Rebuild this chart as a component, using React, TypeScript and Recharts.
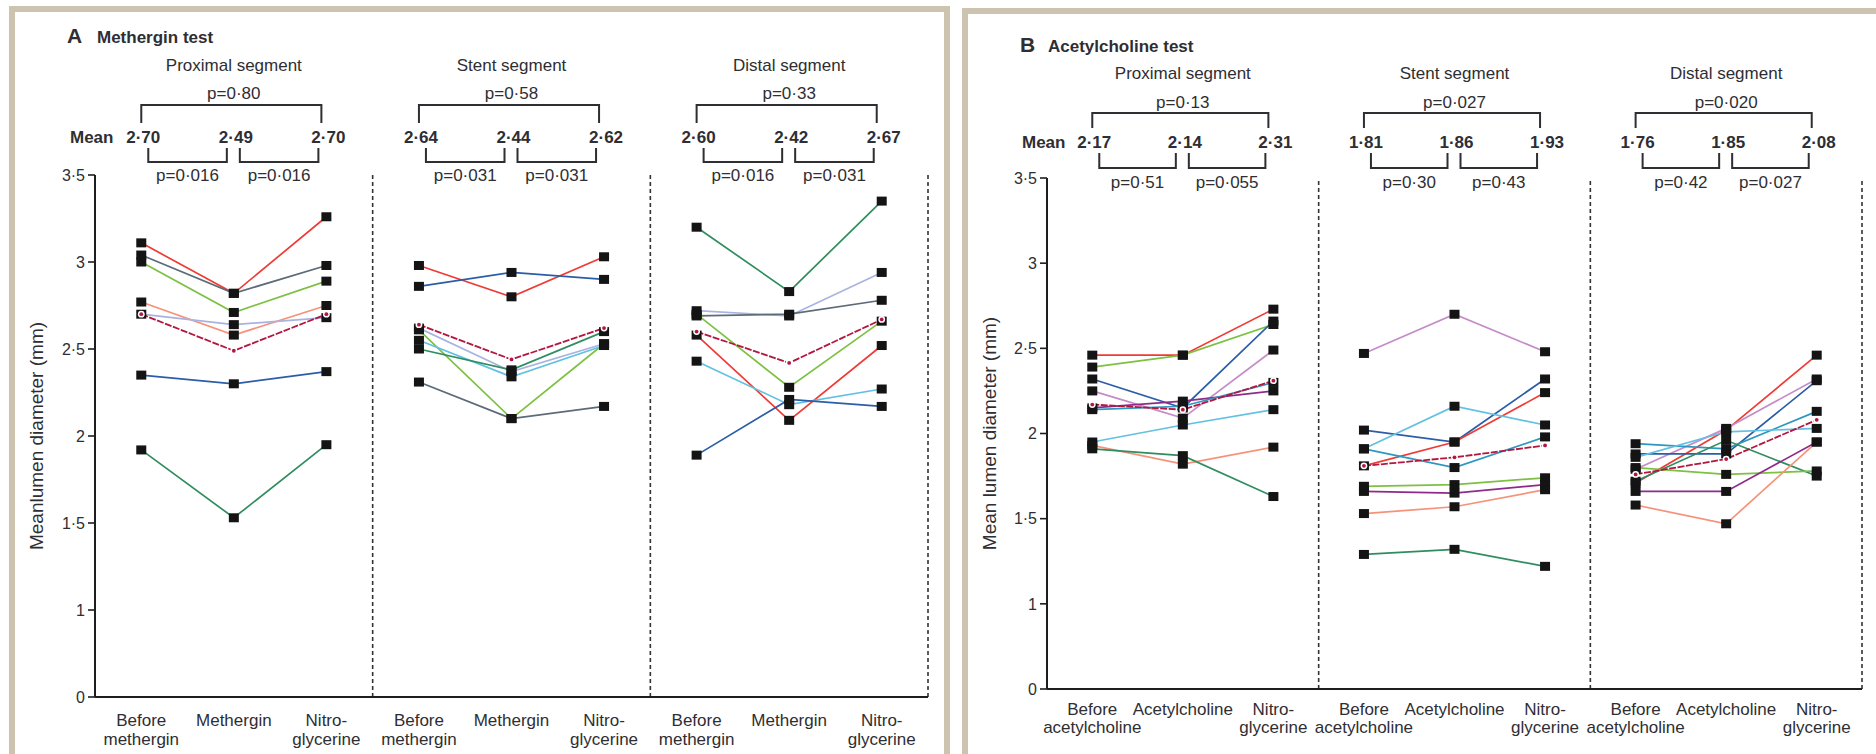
import React from "react";
import { LineChart, Line, XAxis, YAxis, ReferenceLine } from "recharts";

const SEGMENTS = ["Proximal segment", "Stent segment", "Distal segment"];
const METH_TICKS = [["Before", "methergin"], ["Methergin"], ["Nitro-", "glycerine"]];
const ACH_TICKS = [["Before", "acetylcholine"], ["Acetylcholine"], ["Nitro-", "glycerine"]];
const Y_TICKS = [0, 1, 1.5, 2, 2.5, 3, 3.5];

// Methergin test: one row per patient -> [before, methergin, nitroglycerine]
const METH_PROXIMAL = [
  [3.11, 2.82, 3.26],
  [3.04, 2.82, 2.98],
  [3.0, 2.71, 2.89],
  [2.77, 2.58, 2.75],
  [2.7, 2.64, 2.68],
  [2.35, 2.3, 2.37],
  [1.92, 1.53, 1.95],
];
const METH_STENT = [
  [2.98, 2.8, 3.03],
  [2.86, 2.94, 2.9],
  [2.62, 2.37, 2.53],
  [2.61, 2.1, 2.53],
  [2.55, 2.34, 2.52],
  [2.5, 2.38, 2.6],
  [2.31, 2.1, 2.17],
];
const METH_DISTAL = [
  [3.2, 2.83, 3.35],
  [2.72, 2.69, 2.94],
  [2.69, 2.7, 2.78],
  [2.7, 2.28, 2.66],
  [2.58, 2.09, 2.52],
  [2.43, 2.18, 2.27],
  [1.89, 2.21, 2.17],
];
const METH_MEANS = [
  [2.7, 2.49, 2.7],
  [2.64, 2.44, 2.62],
  [2.6, 2.42, 2.67],
];
const METH_P_ALL = ["p=0·80", "p=0·58", "p=0·33"];
const METH_P_PAIR = [
  ["p=0·016", "p=0·016"],
  ["p=0·031", "p=0·031"],
  ["p=0·016", "p=0·031"],
];

// Acetylcholine test: [before, acetylcholine, nitroglycerine]
const ACH_PROXIMAL = [
  [2.46, 2.46, 2.73],
  [2.39, 2.46, 2.64],
  [2.32, 2.15, 2.66],
  [2.25, 2.09, 2.49],
  [2.15, 2.19, 2.25],
  [2.14, 2.16, 2.3],
  [1.95, 2.05, 2.14],
  [1.93, 1.82, 1.92],
  [1.91, 1.87, 1.63],
];
const ACH_STENT = [
  [2.47, 2.7, 2.48],
  [2.02, 1.95, 2.32],
  [1.81, 1.95, 2.24],
  [1.91, 2.16, 2.05],
  [1.91, 1.8, 1.98],
  [1.69, 1.7, 1.74],
  [1.66, 1.65, 1.7],
  [1.53, 1.57, 1.67],
  [1.29, 1.32, 1.22],
];
const ACH_DISTAL = [
  [1.71, 2.02, 2.46],
  [1.79, 2.03, 2.32],
  [1.88, 1.88, 2.31],
  [1.94, 1.91, 2.13],
  [1.86, 2.01, 2.03],
  [1.72, 1.96, 1.75],
  [1.8, 1.76, 1.78],
  [1.66, 1.66, 1.95],
  [1.58, 1.47, 1.95],
];
const ACH_MEANS = [
  [2.17, 2.14, 2.31],
  [1.81, 1.86, 1.93],
  [1.76, 1.85, 2.08],
];
const ACH_P_ALL = ["p=0·13", "p=0·027", "p=0·020"];
const ACH_P_PAIR = [
  ["p=0·51", "p=0·055"],
  ["p=0·30", "p=0·43"],
  ["p=0·42", "p=0·027"],
];

const RED = "#ef3b36";
const SLATE = "#5c6b77";
const LGREEN = "#7dc142";
const SALMON = "#f7927a";
const LAVENDER = "#a9b3df";
const BLUE = "#2b5da8";
const TEAL = "#2f8d5f";
const CYAN = "#62c0e2";
const TEALBLUE = "#2d97bf";
const LILAC = "#c58cc8";
const PURPLE = "#8e2b8a";
const MEAN = "#b3173f";

const METH_COLORS = [
  [RED, SLATE, LGREEN, SALMON, LAVENDER, BLUE, TEAL],
  [RED, BLUE, LAVENDER, LGREEN, CYAN, TEAL, SLATE],
  [TEAL, LAVENDER, SLATE, LGREEN, RED, CYAN, BLUE],
];
const ACH_COLORS = [
  [RED, LGREEN, BLUE, LILAC, PURPLE, TEALBLUE, CYAN, SALMON, TEAL],
  [LILAC, BLUE, RED, CYAN, TEALBLUE, LGREEN, PURPLE, SALMON, TEAL],
  [RED, LILAC, BLUE, TEALBLUE, CYAN, TEAL, LGREEN, PURPLE, SALMON],
];

const FONT = "'Liberation Sans', Arial, sans-serif";
const INK = "#2e2e33";
const BORDER = "#cdc4b0";
const W = 1876;
const H = 754;
const Y_W = 60;
const XB_H = 10;

// y axis is broken between 0 and 1: 0 sits one half-step below 1
const toAxis = (v: number) => (v === 0 ? 0 : v - 0.5);
const fromAxis = (p: number) => (p === 0 ? 0 : p + 0.5);
const dot = (s: string) => s.replace(".", "·");
const fmtTick = (p: number) => dot(String(Math.round(fromAxis(p) * 10) / 10));
const fmt2 = (v: number) => dot(v.toFixed(2));

function buildRows(segs: number[][][], means: number[][]) {
  const rows: Record<string, number>[] = [];
  for (let k = 0; k < 9; k++) rows.push({ x: k + 0.5 });
  segs.forEach((seg, s) => {
    seg.forEach((vals, i) => {
      vals.forEach((v, k) => {
        rows[3 * s + k][`s${s}_${i}`] = toAxis(v);
      });
    });
    means[s].forEach((v, k) => {
      rows[3 * s + k][`m${s}`] = toAxis(v);
    });
  });
  return rows;
}

const Square = (p: any) => {
  if (p.cy == null || isNaN(p.cy)) return null;
  return <rect key={p.key} x={p.cx - 5} y={p.cy - 4.5} width={10} height={9} fill="#141414" />;
};

const MeanDot = (p: any) => {
  if (p.cy == null || isNaN(p.cy)) return null;
  return (
    <g key={p.key}>
      <circle cx={p.cx} cy={p.cy} r={3.4} fill="#fff" />
      <circle cx={p.cx} cy={p.cy} r={1.9} fill={MEAN} />
    </g>
  );
};

type Cfg = {
  letter: string;
  title: string;
  letterX: number;
  titleX: number;
  titleY: number;
  meanX: number;
  plotLeft: number;
  plotRight: number;
  plotTop: number;
  plotBottom: number;
  segs: number[][][];
  colors: string[][];
  means: number[][];
  pAll: string[];
  pPair: string[][];
  ticks: string[][];
  yLabel: string;
  yLabelX: number;
  h: { seg: number; pTop: number; brTop: number; brEnd: number; mean: number; lowTop: number; lowBot: number; lowP: number };
  tickBase: number[];
};

const PANEL_A: Cfg = {
  letter: "A",
  title: "Methergin test",
  letterX: 67,
  titleX: 97,
  titleY: 43,
  meanX: 70,
  plotLeft: 95,
  plotRight: 928,
  plotTop: 175,
  plotBottom: 697,
  segs: [METH_PROXIMAL, METH_STENT, METH_DISTAL],
  colors: METH_COLORS,
  means: METH_MEANS,
  pAll: METH_P_ALL,
  pPair: METH_P_PAIR,
  ticks: METH_TICKS,
  yLabel: "Meanlumen diameter (mm)",
  yLabelX: 36,
  h: { seg: 71, pTop: 99, brTop: 105, brEnd: 123, mean: 143, lowTop: 148, lowBot: 162, lowP: 181 },
  tickBase: [19, 38],
};

const PANEL_B: Cfg = {
  letter: "B",
  title: "Acetylcholine test",
  letterX: 1020,
  titleX: 1048,
  titleY: 52,
  meanX: 1022,
  plotLeft: 1047,
  plotRight: 1862,
  plotTop: 178,
  plotBottom: 689,
  segs: [ACH_PROXIMAL, ACH_STENT, ACH_DISTAL],
  colors: ACH_COLORS,
  means: ACH_MEANS,
  pAll: ACH_P_ALL,
  pPair: ACH_P_PAIR,
  ticks: ACH_TICKS,
  yLabel: "Mean lumen diameter (mm)",
  yLabelX: 989,
  h: { seg: 79, pTop: 108, brTop: 113, brEnd: 128, mean: 148, lowTop: 153, lowBot: 168, lowP: 188 },
  tickBase: [16, 34],
};

function Header({ cfg }: { cfg: Cfg }) {
  const cw = (cfg.plotRight - cfg.plotLeft) / 9;
  const c = (k: number) => cfg.plotLeft + (k + 0.5) * cw;
  const h = cfg.h;
  const br = { fill: "none", stroke: INK, strokeWidth: 2 };
  return (
    <svg width={W} height={H} style={{ position: "absolute", left: 0, top: 0 }} fontFamily={FONT} fill={INK}>
      <text x={cfg.letterX} y={cfg.titleY} fontSize={21} fontWeight="bold">
        {cfg.letter}
      </text>
      <text x={cfg.titleX} y={cfg.titleY} fontSize={17} fontWeight="bold">
        {cfg.title}
      </text>
      <text x={cfg.meanX} y={h.mean} fontSize={17} fontWeight="bold">
        Mean
      </text>
      {SEGMENTS.map((name, s) => {
        const c0 = c(3 * s);
        const c1 = c(3 * s + 1);
        const c2 = c(3 * s + 2);
        const l0 = c0 + 7;
        const l1 = c1 - 7;
        const r0 = c1 + 6;
        const r1 = c2 - 8;
        return (
          <g key={name}>
            <text x={c1} y={h.seg} textAnchor="middle" fontSize={17}>
              {name}
            </text>
            <text x={c1} y={h.pTop} textAnchor="middle" fontSize={17}>
              {cfg.pAll[s]}
            </text>
            <polyline points={`${c0},${h.brEnd} ${c0},${h.brTop} ${c2 - 5},${h.brTop} ${c2 - 5},${h.brEnd}`} {...br} />
            {cfg.means[s].map((m, k) => (
              <text key={k} x={c(3 * s + k) + 2} y={h.mean} textAnchor="middle" fontSize={17} fontWeight="bold">
                {fmt2(m)}
              </text>
            ))}
            <polyline points={`${l0},${h.lowTop} ${l0},${h.lowBot} ${l1},${h.lowBot} ${l1},${h.lowTop}`} {...br} />
            <polyline points={`${r0},${h.lowTop} ${r0},${h.lowBot} ${r1},${h.lowBot} ${r1},${h.lowTop}`} {...br} />
            <text x={(l0 + l1) / 2} y={h.lowP} textAnchor="middle" fontSize={17}>
              {cfg.pPair[s][0]}
            </text>
            <text x={(r0 + r1) / 2} y={h.lowP} textAnchor="middle" fontSize={17}>
              {cfg.pPair[s][1]}
            </text>
          </g>
        );
      })}
      <text
        transform={`translate(${cfg.yLabelX},${(cfg.plotTop + cfg.plotBottom) / 2}) rotate(-90)`}
        textAnchor="middle"
        dominantBaseline="central"
        fontSize={19}
      >
        {cfg.yLabel}
      </text>
    </svg>
  );
}

function Panel({ cfg }: { cfg: Cfg }) {
  const rows = buildRows(cfg.segs, cfg.means);
  const xlH = H - cfg.plotBottom - XB_H;
  const keys: { key: string; color: string }[] = [];
  cfg.segs.forEach((seg, s) => seg.forEach((_, i) => keys.push({ key: `s${s}_${i}`, color: cfg.colors[s][i] })));

  const XTick = (p: any) => {
    const lines = cfg.ticks[Math.floor(p.payload.value) % 3];
    return (
      <text x={p.x} y={p.y} textAnchor="middle" fontSize={17} fill={INK} fontFamily={FONT}>
        {lines.map((l, i) => (
          <tspan key={i} x={p.x} dy={i === 0 ? cfg.tickBase[0] : cfg.tickBase[1] - cfg.tickBase[0]}>
            {l}
          </tspan>
        ))}
      </text>
    );
  };

  return (
    <div style={{ position: "absolute", left: 0, top: 0 }}>
      <LineChart
        width={W}
        height={H}
        data={rows}
        margin={{ top: cfg.plotTop, left: cfg.plotLeft - Y_W, right: W - cfg.plotRight, bottom: 0 }}
      >
        <XAxis
          xAxisId="b"
          dataKey="x"
          type="number"
          domain={[0, 9]}
          ticks={[0, 1, 2, 3, 4, 5, 6, 7, 8, 9]}
          height={XB_H}
          tick={false}
          tickSize={7}
          axisLine={{ stroke: "#1e1e1e", strokeWidth: 2 }}
          tickLine={{ stroke: "#1e1e1e", strokeWidth: 1.6 }}
        />
        <XAxis
          xAxisId="l"
          dataKey="x"
          type="number"
          domain={[0, 9]}
          ticks={[0.5, 1.5, 2.5, 3.5, 4.5, 5.5, 6.5, 7.5, 8.5]}
          height={xlH}
          axisLine={false}
          tickLine={false}
          tickSize={0}
          tickMargin={0}
          tick={XTick}
        />
        <YAxis
          domain={[0, 3]}
          ticks={Y_TICKS.map(toAxis)}
          tickFormatter={fmtTick}
          width={Y_W}
          tickSize={7}
          tickMargin={3}
          interval={0}
          axisLine={{ stroke: "#1e1e1e", strokeWidth: 2 }}
          tickLine={{ stroke: "#1e1e1e", strokeWidth: 1.6 }}
          tick={{ fontSize: 16, fill: INK, fontFamily: FONT }}
        />
        {[3, 6, 9].map((x) => (
          <ReferenceLine key={x} xAxisId="b" x={x} stroke="#333" strokeWidth={1.6} strokeDasharray="4 3" />
        ))}
        {keys.map((k) => (
          <Line
            key={k.key}
            xAxisId="b"
            dataKey={k.key}
            type="linear"
            stroke={k.color}
            strokeWidth={1.7}
            dot={false}
            activeDot={false}
            isAnimationActive={false}
          />
        ))}
        {[0, 1, 2].map((s) => (
          <Line
            key={`m${s}`}
            xAxisId="b"
            dataKey={`m${s}`}
            type="linear"
            stroke={MEAN}
            strokeWidth={1.8}
            strokeDasharray="7 1.5"
            dot={false}
            activeDot={false}
            isAnimationActive={false}
          />
        ))}
        {keys.map((k) => (
          <Line
            key={`d${k.key}`}
            xAxisId="b"
            dataKey={k.key}
            stroke="none"
            dot={Square}
            activeDot={false}
            isAnimationActive={false}
          />
        ))}
        {[0, 1, 2].map((s) => (
          <Line
            key={`md${s}`}
            xAxisId="b"
            dataKey={`m${s}`}
            stroke="none"
            dot={MeanDot}
            activeDot={false}
            isAnimationActive={false}
          />
        ))}
      </LineChart>
    </div>
  );
}

export default function App() {
  return (
    <div style={{ position: "absolute", left: 0, top: 0, width: W, height: H, background: "#fff", overflow: "hidden", fontFamily: FONT }}>
      <div style={{ position: "absolute", left: 9, top: 6, width: 6, height: H - 6, background: BORDER }} />
      <div style={{ position: "absolute", left: 9, top: 6, width: 941, height: 6, background: BORDER }} />
      <div style={{ position: "absolute", left: 944, top: 6, width: 6, height: H - 6, background: BORDER }} />
      <div style={{ position: "absolute", left: 962, top: 8, width: 6, height: H - 8, background: BORDER }} />
      <div style={{ position: "absolute", left: 962, top: 8, width: W - 962, height: 6, background: BORDER }} />
      <Panel cfg={PANEL_A} />
      <Panel cfg={PANEL_B} />
      <Header cfg={PANEL_A} />
      <Header cfg={PANEL_B} />
    </div>
  );
}
